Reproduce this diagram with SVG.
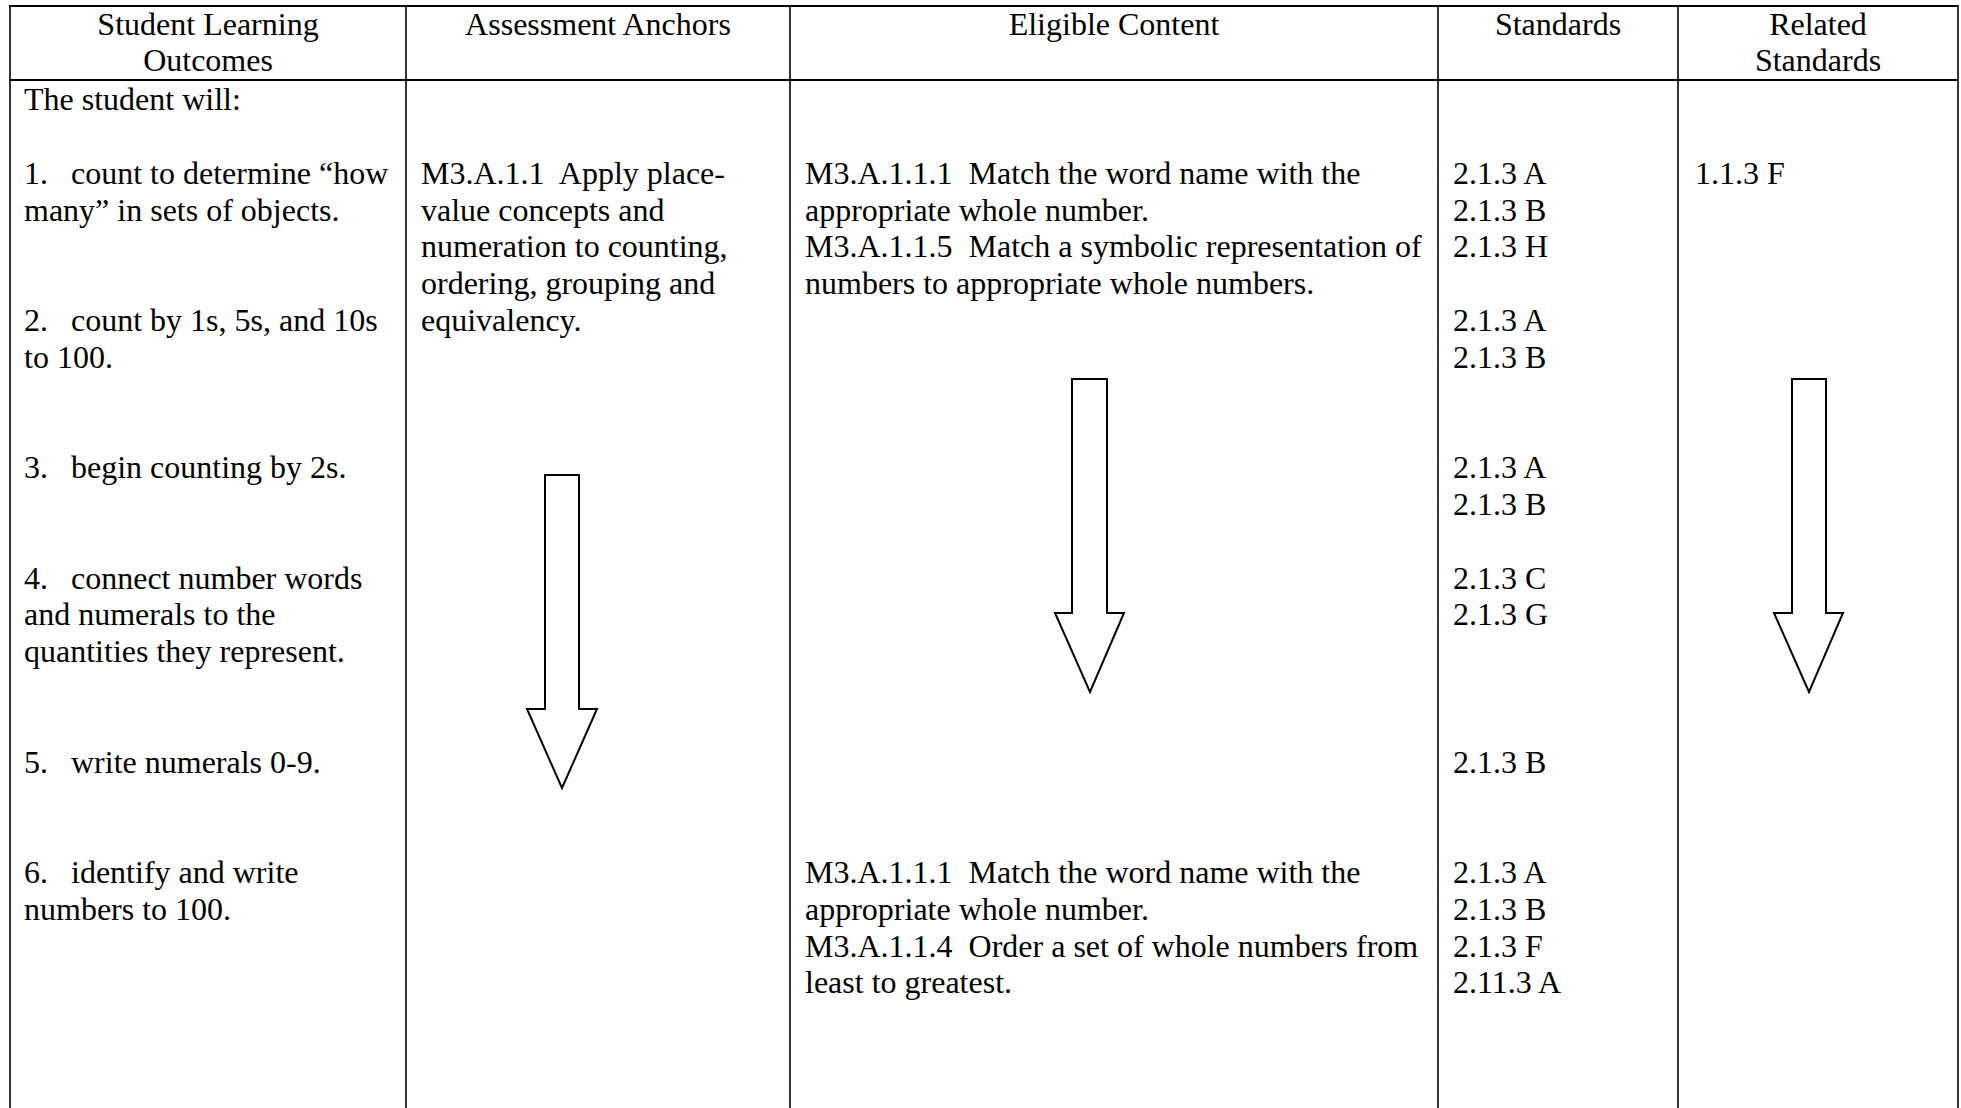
<svg xmlns="http://www.w3.org/2000/svg" width="1961" height="1108" viewBox="0 0 1961 1108">
<style>
text{font-family:"Liberation Serif","Times New Roman",serif;font-size:32px;fill:#000}
.h{text-anchor:middle}
.p{white-space:pre}
.grid{stroke:#000;stroke-width:1.6;fill:none}
.arrow{fill:#fff;stroke:#000;stroke-width:2;stroke-linejoin:miter}
</style>
<rect x="0" y="0" width="1961" height="1108" fill="#fff"/>
<g id="grid" class="grid">
<line x1="9" y1="6" x2="1958" y2="6" stroke-width="2"/>
<line x1="9" y1="80" x2="1958" y2="80" stroke-width="2.2"/>
<line x1="10" y1="5" x2="10" y2="1108"/>
<line x1="406" y1="6" x2="406" y2="1108"/>
<line x1="790" y1="6" x2="790" y2="1108"/>
<line x1="1438" y1="6" x2="1438" y2="1108"/>
<line x1="1678" y1="6" x2="1678" y2="1108"/>
<line x1="1958" y1="5" x2="1958" y2="1108"/>
</g>
<g id="header">
<text class="h" x="208" y="35">Student Learning</text>
<text class="h" x="208" y="71">Outcomes</text>
<text class="h" x="598" y="35">Assessment Anchors</text>
<text class="h" x="1114" y="35">Eligible Content</text>
<text class="h" x="1558" y="35">Standards</text>
<text class="h" x="1818" y="35">Related</text>
<text class="h" x="1818" y="71">Standards</text>
</g>
<g id="outcomes">
<text x="24" y="110">The student will:</text>
<text x="24" y="184">1.</text><text x="71" y="184">count to determine “how</text>
<text x="24" y="221">many” in sets of objects.</text>
<text x="24" y="331">2.</text><text x="71" y="331">count by 1s, 5s, and 10s</text>
<text x="24" y="368">to 100.</text>
<text x="24" y="478">3.</text><text x="71" y="478">begin counting by 2s.</text>
<text x="24" y="589">4.</text><text x="71" y="589">connect number words</text>
<text x="24" y="625">and numerals to the</text>
<text x="24" y="662">quantities they represent.</text>
<text x="24" y="773">5.</text><text x="71" y="773">write numerals 0-9.</text>
<text x="24" y="883">6.</text><text x="71" y="883">identify and write</text>
<text x="24" y="920">numbers to 100.</text>
</g>
<g id="anchors">
<text class="p" x="421" y="184" xml:space="preserve">M3.A.1.1  Apply place-</text>
<text x="421" y="221">value concepts and</text>
<text x="421" y="257">numeration to counting,</text>
<text x="421" y="294">ordering, grouping and</text>
<text x="421" y="331">equivalency.</text>
</g>
<g id="eligible">
<text class="p" x="805" y="184" xml:space="preserve">M3.A.1.1.1  Match the word name with the</text>
<text x="805" y="221">appropriate whole number.</text>
<text class="p" x="805" y="257" xml:space="preserve">M3.A.1.1.5  Match a symbolic representation of</text>
<text x="805" y="294">numbers to appropriate whole numbers.</text>
<text class="p" x="805" y="883" xml:space="preserve">M3.A.1.1.1  Match the word name with the</text>
<text x="805" y="920">appropriate whole number.</text>
<text class="p" x="805" y="957" xml:space="preserve">M3.A.1.1.4  Order a set of whole numbers from</text>
<text x="805" y="993">least to greatest.</text>
</g>
<g id="standards">
<text x="1453" y="184">2.1.3 A</text>
<text x="1453" y="221">2.1.3 B</text>
<text x="1453" y="257">2.1.3 H</text>
<text x="1453" y="331">2.1.3 A</text>
<text x="1453" y="368">2.1.3 B</text>
<text x="1453" y="478">2.1.3 A</text>
<text x="1453" y="515">2.1.3 B</text>
<text x="1453" y="589">2.1.3 C</text>
<text x="1453" y="625">2.1.3 G</text>
<text x="1453" y="773">2.1.3 B</text>
<text x="1453" y="883">2.1.3 A</text>
<text x="1453" y="920">2.1.3 B</text>
<text x="1453" y="957">2.1.3 F</text>
<text x="1453" y="993">2.11.3 A</text>
</g>
<g id="related">
<text x="1695" y="184">1.1.3 F</text>
</g>
<g id="connectors">
<polygon class="arrow" points="545,475 579,475 579,709 597,709 562,788 527,709 545,709"/>
<polygon class="arrow" points="1072,379 1107,379 1107,613 1124,613 1090,692 1055,613 1072,613"/>
<polygon class="arrow" points="1792,379 1826,379 1826,613 1843,613 1809,692 1774,613 1792,613"/>
</g>
</svg>
